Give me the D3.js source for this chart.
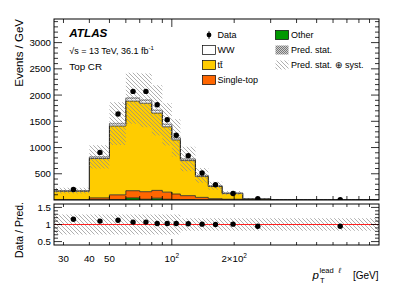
<!DOCTYPE html>
<html>
<head>
<meta charset="utf-8">
<script src="https://cdn.jsdelivr.net/npm/d3@7"></script>
<style>
  body { margin: 0; background: #fff; }
  text { font-family: "Liberation Sans", Arial, Helvetica, sans-serif; fill: #000; }
</style>
</head>
<body>
<div id="chart"></div>
<script>
// bin edges in GeV (log axis)
var binEdges  = [27, 40, 50, 60, 70, 80, 90, 100, 110, 130, 150, 175, 220, 300, 1000];
// stacked predictions, events / GeV (bottom to top)
var other     = [1, 5, 10, 40, 15, 35, 15, 10, 8, 5, 3, 2, 1, 0.3];
var singleTop = [4, 35, 88, 137, 143, 148, 135, 104, 75, 45, 22, 13, 4, 0.7];
var ttbar     = [160, 750, 1312, 1708, 1687, 1474, 1245, 1031, 668, 397, 232, 108, 16, 1];
var ww        = [15, 30, 45, 55, 55, 50, 45, 40, 30, 22, 15, 10, 4, 1];
var dataVals  = [200, 907, 1640, 2070, 2070, 1816, 1530, 1235, 845, 514, 291, 125, 25, 4];
var ratioVals = [1.155, 1.10, 1.125, 1.07, 1.07, 1.03, 1.03, 1.03, 1.02, 1.01, 1.00, 1.01, 0.95, 0.95];
// relative uncertainties
var statRel   = [0.03, 0.015, 0.012, 0.01, 0.01, 0.01, 0.012, 0.013, 0.015, 0.02, 0.025, 0.03, 0.05, 0.08];
var systRel   = [0.30, 0.27, 0.28, 0.25, 0.27, 0.28, 0.28, 0.30, 0.30, 0.30, 0.28, 0.28, 0.28, 0.28];
var ratioBand = [0.29, 0.29, 0.29, 0.29, 0.29, 0.29, 0.29, 0.29, 0.18, 0.18, 0.18, 0.18, 0.18, 0.18];

var xTickLabels = [30, 40, 50, 100, 200];
var yTickLabels = [500, 1000, 1500, 2000, 2500, 3000];
var rTickLabels = [0.5, 1, 1.5];

var W = 399, H = 288;
var L = 54, R = 379, mainTop = 19, mainBot = 200, ratTop = 204, ratBot = 245;

var svg = d3.select("#chart").append("svg")
	.attr("width", W).attr("height", H);

var x = d3.scaleLog().domain([27, 1000]).range([L, R]);
var y = d3.scaleLinear().domain([0, 3450]).range([mainBot, mainTop]);
var yr = d3.scaleLinear().domain([0.4, 1.6]).range([ratBot, ratTop]);

var defs = svg.append("defs");
var hatch = defs.append("pattern").attr("id", "syst")
	.attr("patternUnits", "userSpaceOnUse").attr("width", 4).attr("height", 4);
hatch.append("path").attr("d", "M-1,-1 L5,5 M-1,3 L1,5 M3,-1 L5,1")
	.attr("stroke", "#8c8c8c").attr("stroke-width", 0.7);
var cross = defs.append("pattern").attr("id", "stat")
	.attr("patternUnits", "userSpaceOnUse").attr("width", 2).attr("height", 2);
cross.append("rect").attr("width", 2).attr("height", 2).attr("fill", "#d0d0d0");
cross.append("rect").attr("width", 1).attr("height", 1).attr("fill", "#777");
cross.append("rect").attr("x", 1).attr("y", 1).attr("width", 1).attr("height", 1).attr("fill", "#777");

defs.append("clipPath").attr("id", "clipMain").append("rect")
	.attr("x", L).attr("y", mainTop).attr("width", R - L).attr("height", mainBot - mainTop);
defs.append("clipPath").attr("id", "clipRat").append("rect")
	.attr("x", L).attr("y", ratTop).attr("width", R - L).attr("height", ratBot - ratTop);

// bins as step points
var bins = binEdges.slice(0, -1).map(function(lo, i) {
	return {i: i, lo: lo, hi: binEdges[i + 1]};
});
function stepPts(f) {
	var pts = [];
	bins.forEach(function(b) {
		var v = f(b.i);
		pts.push({x: b.lo, y0: v[0], y1: v[1]});
		pts.push({x: b.hi, y0: v[0], y1: v[1]});
	});
	return pts;
}

var layers = [
	{name: "Other", vals: other, color: "#009900"},
	{name: "Single-top", vals: singleTop, color: "#ff6600"},
	{name: "tt", vals: ttbar, color: "#ffcc00"},
	{name: "WW", vals: ww, color: "#ffffff"}
];
var cum = bins.map(function() { return 0; });
var total;
var gMain = svg.append("g").attr("clip-path", "url(#clipMain)");

layers.forEach(function(ly) {
	var base = cum.slice();
	cum = cum.map(function(c, i) { return c + ly.vals[i]; });
	var top = cum.slice();
	var pts = stepPts(function(i) { return [base[i], top[i]]; });
	gMain.append("path").datum(pts)
		.attr("fill", ly.color)
		.attr("stroke", "none")
		.attr("d", d3.area().x(function(d) { return x(d.x); })
			.y0(function(d) { return y(d.y0); })
			.y1(function(d) { return y(d.y1); }));
	ly.top = top;
});
total = cum;
// outlines of each layer
layers.forEach(function(ly) {
	var pts = stepPts(function(i) { return [0, ly.top[i]]; });
	gMain.append("path").datum(pts)
		.attr("fill", "none").attr("stroke", "#222").attr("stroke-width", 0.8)
		.attr("d", d3.line().x(function(d) { return x(d.x); }).y(function(d) { return y(d.y1); }));
});

// uncertainty bands in main panel
gMain.append("path").datum(stepPts(function(i) {
		return [total[i] * (1 - systRel[i]), total[i] * (1 + systRel[i])]; }))
	.attr("fill", "url(#syst)")
	.attr("d", d3.area().x(function(d) { return x(d.x); })
		.y0(function(d) { return y(d.y0); }).y1(function(d) { return y(d.y1); }));
gMain.append("path").datum(stepPts(function(i) {
		return [total[i] * (1 - statRel[i]), total[i] * (1 + statRel[i])]; }))
	.attr("fill", "url(#stat)").attr("opacity", 0.8)
	.attr("d", d3.area().x(function(d) { return x(d.x); })
		.y0(function(d) { return y(d.y0); }).y1(function(d) { return y(d.y1); }));

// data points
gMain.selectAll("circle.data").data(bins).enter().append("circle")
	.attr("cx", function(d) { return x((d.lo + d.hi) / 2); })
	.attr("cy", function(d) { return y(dataVals[d.i]); })
	.attr("r", 2.7).attr("fill", "#000");

// ratio panel
var gRat = svg.append("g").attr("clip-path", "url(#clipRat)");
gRat.append("path").datum(stepPts(function(i) { return [1 - ratioBand[i], 1 + ratioBand[i]]; }))
	.attr("fill", "url(#syst)")
	.attr("d", d3.area().x(function(d) { return x(d.x); })
		.y0(function(d) { return yr(d.y0); }).y1(function(d) { return yr(d.y1); }));
gRat.append("line")
	.attr("x1", L).attr("x2", R).attr("y1", yr(1)).attr("y2", yr(1))
	.attr("stroke", "#ff2020").attr("stroke-width", 1);
gRat.selectAll("circle").data(bins).enter().append("circle")
	.attr("cx", function(d) { return x((d.lo + d.hi) / 2); })
	.attr("cy", function(d) { return yr(ratioVals[d.i]); })
	.attr("r", 2.7).attr("fill", "#000");

// frames and ticks
function frame(t, b) {
	svg.append("rect").attr("x", L).attr("y", t).attr("width", R - L).attr("height", b - t)
		.attr("fill", "none").attr("stroke", "#000").attr("stroke-width", 1);
}
frame(mainTop, mainBot);
frame(ratTop, ratBot);

var xMinor = [];
[10, 100].forEach(function(dec) {
	for (var k = 1; k <= 9; k++) {
		var v = dec * k;
		if (v >= 27 && v <= 1000) xMinor.push(v);
	}
});
function xTicks(t, b, lenMaj, lenMin) {
	xMinor.forEach(function(v) {
		var len = (v === 100 || v === 1000) ? lenMaj : lenMin;
		svg.append("line").attr("x1", x(v)).attr("x2", x(v)).attr("y1", b).attr("y2", b - len)
			.attr("stroke", "#000").attr("stroke-width", 0.8);
		svg.append("line").attr("x1", x(v)).attr("x2", x(v)).attr("y1", t).attr("y2", t + len)
			.attr("stroke", "#000").attr("stroke-width", 0.8);
	});
}
xTicks(mainTop, mainBot, 8, 4);
xTicks(ratTop, ratBot, 6, 3);

function yTicks(scale, step, majStep, lo, hi) {
	for (var v = lo; v <= hi + 1e-9; v += step) {
		var vv = Math.round(v * 1000) / 1000;
		var maj = Math.abs(vv / majStep - Math.round(vv / majStep)) < 1e-6;
		var len = maj ? 8 : 4;
		var yy = scale(vv);
		svg.append("line").attr("x1", L).attr("x2", L + len).attr("y1", yy).attr("y2", yy)
			.attr("stroke", "#000").attr("stroke-width", 0.8);
		svg.append("line").attr("x1", R).attr("x2", R - len).attr("y1", yy).attr("y2", yy)
			.attr("stroke", "#000").attr("stroke-width", 0.8);
	}
}
yTicks(y, 100, 500, 100, 3400);
yTicks(yr, 0.1, 0.5, 0.5, 1.5);

svg.selectAll("text.ylab").data(yTickLabels).enter().append("text")
	.attr("x", 51).attr("y", function(d) { return y(d) + 3.5; })
	.attr("text-anchor", "end").attr("font-size", 9.7).text(function(d) { return d; });
svg.selectAll("text.rlab").data(rTickLabels).enter().append("text")
	.attr("x", 51).attr("y", function(d) { return yr(d) + 3.5; })
	.attr("text-anchor", "end").attr("font-size", 9.7).text(function(d) { return d; });

xTickLabels.forEach(function(v) {
	var t = svg.append("text").attr("x", x(v)).attr("y", 261.5)
		.attr("text-anchor", "middle").attr("font-size", 9.7);
	if (v === 100) {
		t.text("10").append("tspan").attr("dy", -4).attr("font-size", 6.5).text("2");
	} else if (v === 200) {
		t.text("2\u00d710").append("tspan").attr("dy", -4).attr("font-size", 6.5).text("2");
	} else {
		t.text(v);
	}
});

// axis titles
svg.append("text").attr("transform", "translate(22.5,19) rotate(-90)")
	.attr("text-anchor", "end").attr("font-size", 11.5).text("Events / GeV");
svg.append("text").attr("transform", "translate(22.5,202) rotate(-90)")
	.attr("text-anchor", "end").attr("font-size", 10.5).text("Data / Pred.");

svg.append("text").attr("x", 378.5).attr("y", 279).attr("text-anchor", "end")
	.attr("font-size", 10).text("[GeV]");
svg.append("text").attr("x", 312.5).attr("y", 279).attr("font-size", 11.5)
	.attr("font-style", "italic").text("p");
svg.append("text").attr("x", 320).attr("y", 283).attr("font-size", 7.5).text("T");
svg.append("text").attr("x", 319.5).attr("y", 273).attr("font-size", 7.5).text("lead");
svg.append("text").attr("x", 338.5).attr("y", 273).attr("font-size", 7.5)
	.attr("font-style", "italic").text("\u2113");

// ATLAS labels
svg.append("text").attr("x", 69.3).attr("y", 36.8).attr("font-size", 11.7)
	.attr("font-weight", "bold").attr("font-style", "italic").text("ATLAS");
var lum = svg.append("text").attr("x", 69.3).attr("y", 54).attr("font-size", 9);
lum.append("tspan").text("\u221as = 13 TeV, 36.1 fb");
lum.append("tspan").attr("dy", -4).attr("font-size", 6).text("-1");
svg.append("text").attr("x", 69.3).attr("y", 70.3).attr("font-size", 9.8).text("Top CR");

// legend
var legendLeft = [
	{label: "Data", type: "data"},
	{label: "WW", type: "box", fill: "#ffffff"},
	{label: "tt\u0304", type: "box", fill: "#ffcc00"},
	{label: "Single-top", type: "box", fill: "#ff6600"}
];
var legendRight = [
	{label: "Other", type: "box", fill: "#009900"},
	{label: "Pred. stat.", type: "pat", fill: "url(#stat)"},
	{label: "Pred. stat. \u2295 syst.", type: "pat", fill: "url(#syst)"}
];
function drawLegend(items, bx, tx) {
	items.forEach(function(it, k) {
		var cy = 35 + k * 15;
		if (it.type === "data") {
			svg.append("line").attr("x1", bx + 6.5).attr("x2", bx + 6.5)
				.attr("y1", cy - 4).attr("y2", cy + 4).attr("stroke", "#000").attr("stroke-width", 0.8);
			svg.append("circle").attr("cx", bx + 6.5).attr("cy", cy).attr("r", 2.4).attr("fill", "#000");
		} else {
			svg.append("rect").attr("x", bx).attr("y", cy - 4.5).attr("width", 13).attr("height", 9)
				.attr("fill", it.fill)
				.attr("stroke", it.type === "box" ? "#000" : "none").attr("stroke-width", 0.7);
		}
		svg.append("text").attr("x", tx).attr("y", cy + 3.2).attr("font-size", 9).text(it.label);
	});
}
drawLegend(legendLeft, 202.5, 217.5);
drawLegend(legendRight, 275.5, 291);
</script>
</body>
</html>
